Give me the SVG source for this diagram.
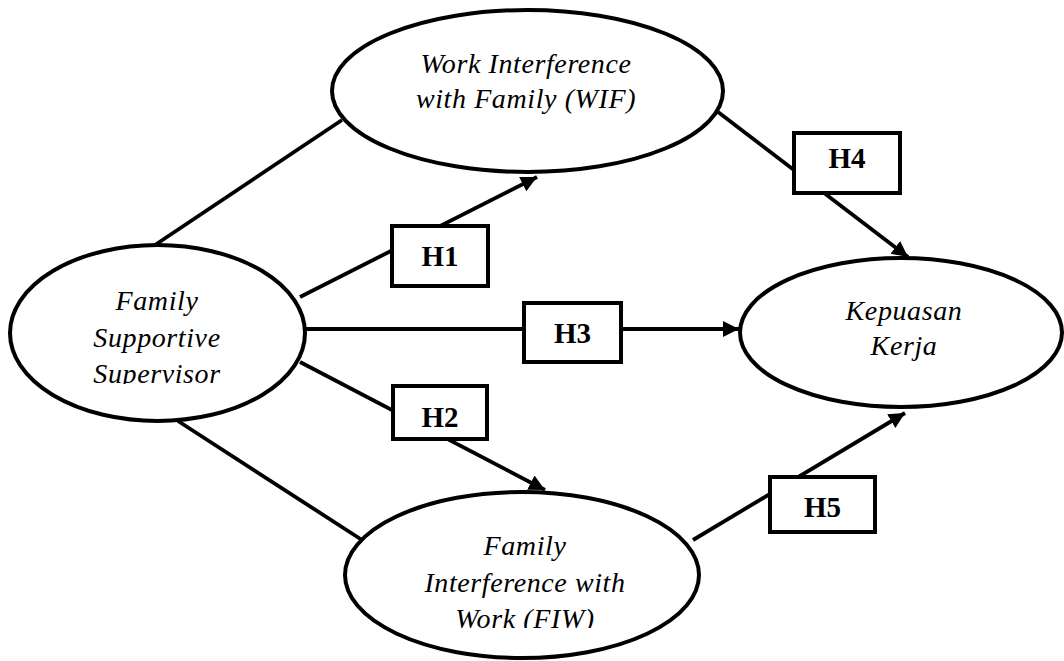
<svg xmlns="http://www.w3.org/2000/svg" width="1064" height="661" viewBox="0 0 1064 661">
<style>
.bg{fill:#fff}
.ell{fill:#fff;stroke:#000;stroke-width:4}
.box{fill:#fff;stroke:#000;stroke-width:4}
.ln{fill:none;stroke:#000;stroke-width:3.8}
.lbl{font-family:"Liberation Serif","Times New Roman",serif;font-style:italic;font-size:28px;letter-spacing:0.6px;text-anchor:middle;fill:#000}
.h{font-family:"Liberation Serif","Times New Roman",serif;font-weight:bold;font-size:29px;text-anchor:middle;fill:#000}
</style>
<defs>
<marker id="arr" markerUnits="userSpaceOnUse" markerWidth="18" markerHeight="18" refX="16" refY="8" orient="auto">
<path d="M0,0 L16,8 L0,16 z" fill="#000"/>
</marker>
<clipPath id="clipFSS"><rect x="0" y="0" width="320" height="384"/></clipPath>
<clipPath id="clipFIW"><rect x="330" y="480" width="390" height="148"/></clipPath>
</defs>
<rect class="bg" x="0" y="0" width="1064" height="661"/>
<g id="connectors">
<line class="ln" x1="155" y1="245" x2="342" y2="120"/>
<line class="ln" x1="178" y1="421" x2="362" y2="540"/>
<line class="ln" x1="300" y1="297" x2="537" y2="177" marker-end="url(#arr)"/>
<line class="ln" x1="305" y1="329" x2="739" y2="329" marker-end="url(#arr)"/>
<line class="ln" x1="300" y1="362" x2="545" y2="490" marker-end="url(#arr)"/>
<line class="ln" x1="718" y1="112" x2="908" y2="257" marker-end="url(#arr)"/>
<line class="ln" x1="693" y1="540" x2="905" y2="413" marker-end="url(#arr)"/>
</g>
<g id="fss">
<ellipse class="ell" cx="157.5" cy="333" rx="147.5" ry="88"/>
<g clip-path="url(#clipFSS)">
<text class="lbl" x="157" y="310">Family</text>
<text class="lbl" x="157" y="347">Supportive</text>
<text class="lbl" x="157" y="383">Supervisor</text>
</g>
</g>
<g id="wif">
<ellipse class="ell" cx="527.5" cy="91" rx="195.5" ry="81"/>
<text class="lbl" x="526" y="73">Work Interference</text>
<text class="lbl" x="526" y="108">with Family (WIF)</text>
</g>
<g id="fiw">
<ellipse class="ell" cx="522" cy="575" rx="177" ry="83"/>
<g clip-path="url(#clipFIW)">
<text class="lbl" x="525" y="555">Family</text>
<text class="lbl" x="525" y="592">Interference with</text>
<text class="lbl" x="525" y="628">Work (FIW)</text>
</g>
</g>
<g id="kepuasan">
<ellipse class="ell" cx="901" cy="332.5" rx="161" ry="74.5"/>
<text class="lbl" x="904" y="320">Kepuasan</text>
<text class="lbl" x="904" y="355">Kerja</text>
</g>
<g id="h1">
<rect class="box" x="392" y="226" width="96" height="60"/>
<text class="h" x="440" y="266">H1</text>
</g>
<g id="h2">
<rect class="box" x="393" y="386" width="94" height="53"/>
<text class="h" x="440" y="427">H2</text>
</g>
<g id="h3">
<rect class="box" x="524" y="303" width="97" height="59"/>
<text class="h" x="572.5" y="343">H3</text>
</g>
<g id="h4">
<rect class="box" x="794" y="133" width="106" height="60"/>
<text class="h" x="847" y="168">H4</text>
</g>
<g id="h5">
<rect class="box" x="770" y="477" width="105" height="55"/>
<text class="h" x="822.5" y="517">H5</text>
</g>
</svg>
